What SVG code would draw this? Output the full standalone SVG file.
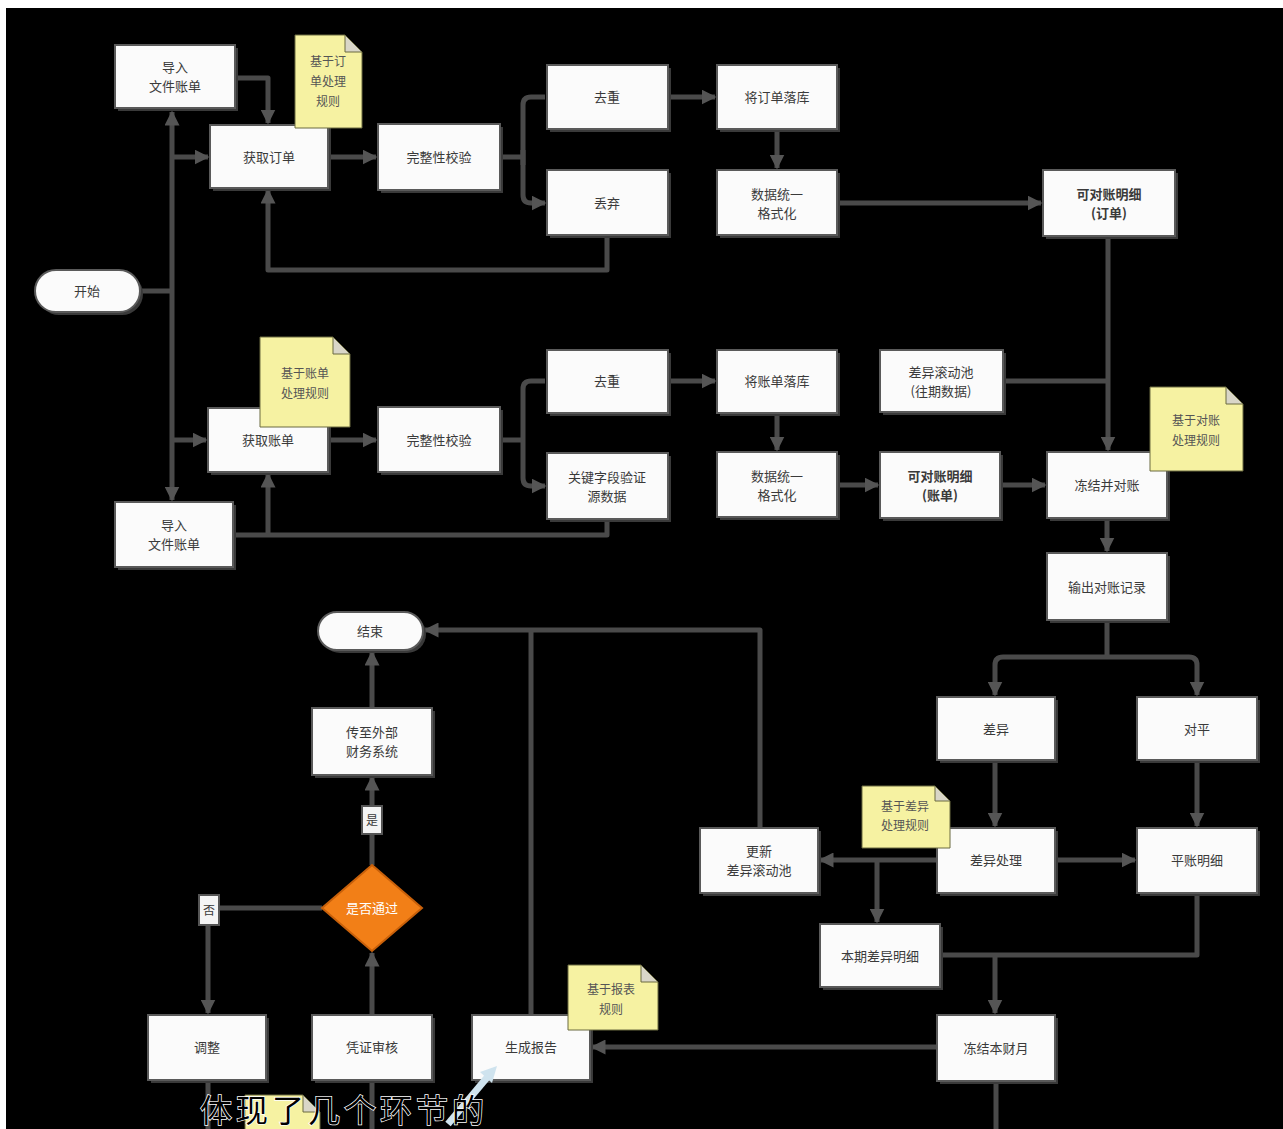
<svg xmlns="http://www.w3.org/2000/svg" width="1283" height="1129" viewBox="0 0 1283 1129">
<style>
.n rect.b{fill:#fbfbfb;stroke:#5a5a5a;stroke-width:2}
.n rect.s{fill:#3a3a3a}
.t{font-family:"Noto Sans CJK SC","Noto Sans",sans-serif;font-size:13px;fill:#3a3a3a;text-anchor:middle}
.tb{font-weight:bold}
.note path.p{fill:#f6f2a2;stroke:#6a6a40;stroke-width:1}
.note path.f{fill:#d9d6c8;stroke:#6a6a40;stroke-width:1}
.nt{font-family:"Noto Sans CJK SC","Noto Sans",sans-serif;font-size:12px;fill:#555;text-anchor:middle}
.c{fill:none;stroke:#4a4a4a;stroke-width:5;stroke-linejoin:round}
.ca{fill:none;stroke:#4a4a4a;stroke-width:5;stroke-linejoin:round;marker-end:url(#ah)}
</style>
<defs>
<marker id="ah" viewBox="0 0 10 10" refX="9" refY="5" markerWidth="3" markerHeight="3" orient="auto" markerUnits="strokeWidth">
<path d="M0,0 L10,5 L0,10 z" fill="#555"/>
</marker>
</defs>
<rect x="0" y="0" width="1283" height="1129" fill="#ffffff"/>
<rect x="6" y="8" width="1277" height="1121" fill="#000000"/>

<g id="connectors">
<path class="c" d="M140,291 H172"/>
<path class="ca" d="M172,291 V112"/>
<path class="ca" d="M172,291 V500"/>
<path class="ca" d="M172,157 H208"/>
<path class="ca" d="M172,440 H206"/>
<path class="ca" d="M235,78 H268 V123"/>
<path class="ca" d="M607,235 V270 H268 V190"/>
<path class="c" d="M607,519 V535 H235"/>
<path class="ca" d="M268,535 V474"/>
<path class="ca" d="M328,157 H376"/>
<path class="c" d="M500,157 H523"/>
<path class="ca" d="M545,97 H531 Q523,97 523,105 V195 Q523,203 531,203 H545"/>
<path class="c" d="M523,150 V165"/>
<path class="ca" d="M668,97 H715"/>
<path class="ca" d="M777,129 V168"/>
<path class="ca" d="M837,203 H1041"/>
<path class="ca" d="M1108,236 V450"/>
<path class="c" d="M1003,381 H1108"/>
<path class="ca" d="M328,440 H376"/>
<path class="c" d="M500,440 H523"/>
<path class="ca" d="M545,381 H531 Q523,381 523,389 V478 Q523,486 531,486 H545"/>
<path class="ca" d="M668,381 H715"/>
<path class="ca" d="M777,413 V450"/>
<path class="ca" d="M837,485 H878"/>
<path class="ca" d="M1000,485 H1045"/>
<path class="ca" d="M1107,518 V551"/>
<path class="c" d="M1107,620 V657"/>
<path class="ca" d="M1107,657 H1003 Q995,657 995,665 V695"/>
<path class="ca" d="M1107,657 H1189 Q1197,657 1197,665 V695"/>
<path class="ca" d="M995,760 V826"/>
<path class="ca" d="M1197,760 V826"/>
<path class="ca" d="M937,860 H820"/>
<path class="ca" d="M877,860 V922"/>
<path class="ca" d="M1055,860 H1135"/>
<path class="c" d="M1197,893 V955 H940"/>
<path class="ca" d="M995,955 V1013"/>
<path class="ca" d="M760,828 V630 H425"/>
<path class="c" d="M531,1015 V630"/>
<path class="ca" d="M937,1047 H592"/>
<path class="c" d="M996,1081 V1129"/>
<path class="ca" d="M372,708 V652"/>
<path class="ca" d="M372,865 V777"/>
<path class="ca" d="M322,908 H216 Q208,908 208,916 V1013"/>
<path class="ca" d="M372,1015 V953"/>
<path class="c" d="M208,1080 V1129"/>
<path class="c" d="M372,1080 V1129"/>
</g>

<g id="start" class="n"><rect class="s" x="38" y="273" width="105" height="42" rx="21"/><rect class="b" x="35" y="270" width="105" height="42" rx="21"/><text class="t" x="87" y="296">开始</text></g>
<g id="import1" class="n"><rect class="s" x="118" y="48" width="120" height="63"/><rect class="b" x="115" y="45" width="120" height="63"/><text class="t" x="175" y="72">导入</text><text class="t" x="175" y="91">文件账单</text></g>
<g id="getOrder" class="n"><rect class="s" x="213" y="128" width="118" height="63"/><rect class="b" x="210" y="125" width="118" height="63"/><text class="t" x="269" y="162">获取订单</text></g>
<g id="check1" class="n"><rect class="s" x="381" y="127" width="122" height="66"/><rect class="b" x="378" y="124" width="122" height="66"/><text class="t" x="439" y="162">完整性校验</text></g>
<g id="dedup1" class="n"><rect class="s" x="550" y="68" width="121" height="64"/><rect class="b" x="547" y="65" width="121" height="64"/><text class="t" x="607" y="102">去重</text></g>
<g id="discard" class="n"><rect class="s" x="550" y="173" width="121" height="65"/><rect class="b" x="547" y="170" width="121" height="65"/><text class="t" x="607" y="208">丢弃</text></g>
<g id="store1" class="n"><rect class="s" x="720" y="68" width="120" height="64"/><rect class="b" x="717" y="65" width="120" height="64"/><text class="t" x="777" y="102">将订单落库</text></g>
<g id="fmt1" class="n"><rect class="s" x="720" y="173" width="120" height="65"/><rect class="b" x="717" y="170" width="120" height="65"/><text class="t" x="777" y="199">数据统一</text><text class="t" x="777" y="218">格式化</text></g>
<g id="recon1" class="n"><rect class="s" x="1046" y="173" width="132" height="66"/><rect class="b" x="1043" y="170" width="132" height="66"/><text class="t tb" x="1109" y="199">可对账明细</text><text class="t tb" x="1109" y="218">(订单)</text></g>
<g id="pool" class="n"><rect class="s" x="883" y="353" width="123" height="62"/><rect class="b" x="880" y="350" width="123" height="62"/><text class="t" x="941" y="377">差异滚动池</text><text class="t" x="941" y="396">(往期数据)</text></g>
<g id="getBill" class="n"><rect class="s" x="211" y="411" width="120" height="64"/><rect class="b" x="208" y="408" width="120" height="64"/><text class="t" x="268" y="445">获取账单</text></g>
<g id="check2" class="n"><rect class="s" x="381" y="410" width="122" height="65"/><rect class="b" x="378" y="407" width="122" height="65"/><text class="t" x="439" y="445">完整性校验</text></g>
<g id="import2" class="n"><rect class="s" x="118" y="505" width="118" height="65"/><rect class="b" x="115" y="502" width="118" height="65"/><text class="t" x="174" y="530">导入</text><text class="t" x="174" y="549">文件账单</text></g>
<g id="dedup2" class="n"><rect class="s" x="550" y="353" width="121" height="63"/><rect class="b" x="547" y="350" width="121" height="63"/><text class="t" x="607" y="386">去重</text></g>
<g id="keyField" class="n"><rect class="s" x="550" y="456" width="121" height="66"/><rect class="b" x="547" y="453" width="121" height="66"/><text class="t" x="607" y="482">关键字段验证</text><text class="t" x="607" y="501">源数据</text></g>
<g id="store2" class="n"><rect class="s" x="720" y="353" width="120" height="63"/><rect class="b" x="717" y="350" width="120" height="63"/><text class="t" x="777" y="386">将账单落库</text></g>
<g id="fmt2" class="n"><rect class="s" x="720" y="455" width="120" height="65"/><rect class="b" x="717" y="452" width="120" height="65"/><text class="t" x="777" y="481">数据统一</text><text class="t" x="777" y="500">格式化</text></g>
<g id="recon2" class="n"><rect class="s" x="883" y="455" width="120" height="66"/><rect class="b" x="880" y="452" width="120" height="66"/><text class="t tb" x="940" y="481">可对账明细</text><text class="t tb" x="940" y="500">(账单)</text></g>
<g id="freeze" class="n"><rect class="s" x="1050" y="455" width="120" height="66"/><rect class="b" x="1047" y="452" width="120" height="66"/><text class="t" x="1107" y="490">冻结并对账</text></g>
<g id="output" class="n"><rect class="s" x="1050" y="556" width="120" height="67"/><rect class="b" x="1047" y="553" width="120" height="67"/><text class="t" x="1107" y="592">输出对账记录</text></g>
<g id="diff" class="n"><rect class="s" x="940" y="700" width="118" height="63"/><rect class="b" x="937" y="697" width="118" height="63"/><text class="t" x="996" y="734">差异</text></g>
<g id="even" class="n"><rect class="s" x="1140" y="700" width="120" height="63"/><rect class="b" x="1137" y="697" width="120" height="63"/><text class="t" x="1197" y="734">对平</text></g>
<g id="updPool" class="n"><rect class="s" x="703" y="831" width="118" height="65"/><rect class="b" x="700" y="828" width="118" height="65"/><text class="t" x="759" y="856">更新</text><text class="t" x="759" y="875">差异滚动池</text></g>
<g id="diffProc" class="n"><rect class="s" x="940" y="831" width="118" height="65"/><rect class="b" x="937" y="828" width="118" height="65"/><text class="t" x="996" y="865">差异处理</text></g>
<g id="evenDetail" class="n"><rect class="s" x="1140" y="831" width="120" height="65"/><rect class="b" x="1137" y="828" width="120" height="65"/><text class="t" x="1197" y="865">平账明细</text></g>
<g id="curDiff" class="n"><rect class="s" x="823" y="927" width="120" height="63"/><rect class="b" x="820" y="924" width="120" height="63"/><text class="t" x="880" y="961">本期差异明细</text></g>
<g id="freezeMonth" class="n"><rect class="s" x="940" y="1018" width="118" height="66"/><rect class="b" x="937" y="1015" width="118" height="66"/><text class="t" x="996" y="1053">冻结本财月</text></g>
<g id="end" class="n"><rect class="s" x="321" y="615" width="105" height="38" rx="19"/><rect class="b" x="318" y="612" width="105" height="38" rx="19"/><text class="t" x="370" y="636">结束</text></g>
<g id="transfer" class="n"><rect class="s" x="315" y="711" width="120" height="67"/><rect class="b" x="312" y="708" width="120" height="67"/><text class="t" x="372" y="737">传至外部</text><text class="t" x="372" y="756">财务系统</text></g>
<g id="decision"><path d="M372,865 L422,908 L372,951 L322,908 z" fill="#f27f17" stroke="#c8600a" stroke-width="2"/><text class="t" x="372" y="913" style="fill:#ffffff">是否通过</text></g>
<g id="adjust" class="n"><rect class="s" x="151" y="1018" width="118" height="65"/><rect class="b" x="148" y="1015" width="118" height="65"/><text class="t" x="207" y="1052">调整</text></g>
<g id="voucher" class="n"><rect class="s" x="315" y="1018" width="120" height="65"/><rect class="b" x="312" y="1015" width="120" height="65"/><text class="t" x="372" y="1052">凭证审核</text></g>
<g id="report" class="n"><rect class="s" x="475" y="1018" width="118" height="65"/><rect class="b" x="472" y="1015" width="118" height="65"/><text class="t" x="531" y="1052">生成报告</text></g>

<g id="labelYes"><rect x="362" y="806" width="20" height="28" fill="#f4f4f4" stroke="#555" stroke-width="2"/><text class="t" x="372" y="825" style="font-size:12px">是</text></g>
<g id="labelNo"><rect x="199" y="895" width="20" height="30" fill="#f4f4f4" stroke="#555" stroke-width="2"/><text class="t" x="209" y="915" style="font-size:12px">否</text></g>

<g id="note1" class="note"><path class="p" d="M295,35 H345 L362,52 V128 H295 z"/><path class="f" d="M345,35 V52 H362 z"/><text class="nt" x="328" y="66">基于订</text><text class="nt" x="328" y="86">单处理</text><text class="nt" x="328" y="106">规则</text></g>
<g id="note2" class="note"><path class="p" d="M260,337 H333 L350,354 V427 H260 z"/><path class="f" d="M333,337 V354 H350 z"/><text class="nt" x="305" y="378">基于账单</text><text class="nt" x="305" y="398">处理规则</text></g>
<g id="note3" class="note"><path class="p" d="M1150,387 H1226 L1243,404 V471 H1150 z"/><path class="f" d="M1226,387 V404 H1243 z"/><text class="nt" x="1196" y="425">基于对账</text><text class="nt" x="1196" y="445">处理规则</text></g>
<g id="note4" class="note"><path class="p" d="M862,786 H935 L950,801 V848 H862 z"/><path class="f" d="M935,786 V801 H950 z"/><text class="nt" x="905" y="811">基于差异</text><text class="nt" x="905" y="830">处理规则</text></g>
<g id="note5" class="note"><path class="p" d="M568,965 H641 L658,982 V1030 H568 z"/><path class="f" d="M641,965 V982 H658 z"/><text class="nt" x="611" y="994">基于报表</text><text class="nt" x="611" y="1014">规则</text></g>
<g id="note6" class="note"><path class="p" d="M245,1095 H303 L320,1112 V1135 H245 z"/><path class="f" d="M303,1095 V1112 H320 z"/></g>

<path d="M448,1124 L490,1074" stroke="#cfe3ee" stroke-width="7" fill="none"/>
<path d="M497,1066 L480,1072 L492,1083 z" fill="#cfe3ee"/>

<text x="200" y="1122" style="font-family:'Noto Sans CJK SC',sans-serif;font-size:32px;letter-spacing:4px;fill:#000;stroke:#fff;stroke-width:1.5;paint-order:stroke">体现了几个环节的</text>
</svg>
